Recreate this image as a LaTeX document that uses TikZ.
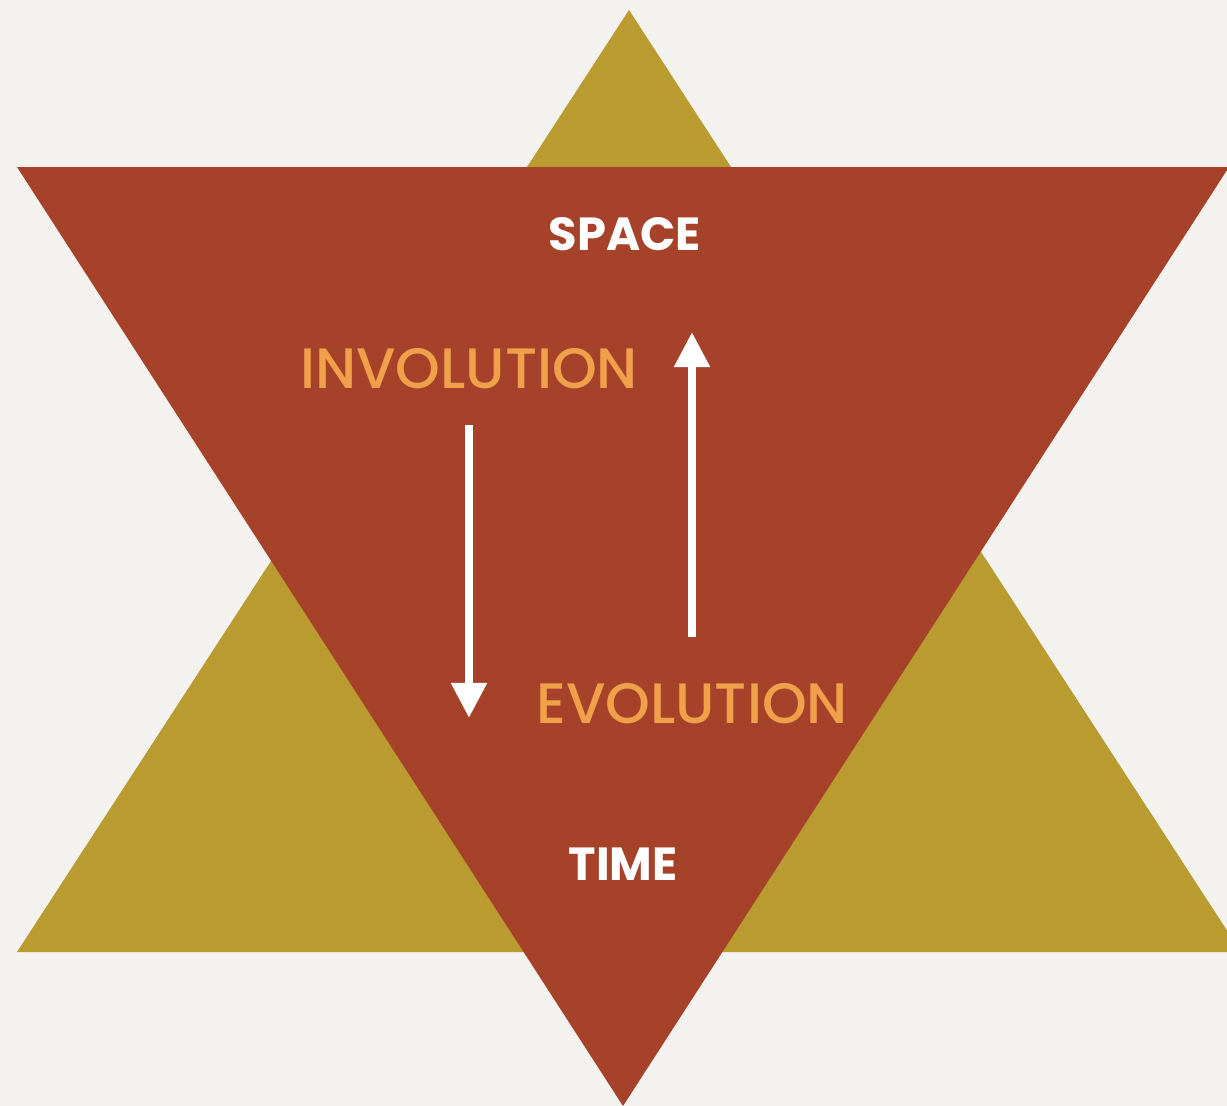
\documentclass[tikz,border=0pt]{standalone}
\usepackage{fontspec}
\setmainfont{Poppins}
\newfontfamily\mediumface{Poppins Medium}
\usepackage{xcolor}
\usetikzlibrary{arrows.meta,positioning}
\definecolor{paper}{HTML}{F3F2EE}
\definecolor{gold}{HTML}{B99B30}
\definecolor{rust}{HTML}{A6412A}
\definecolor{amber}{HTML}{F0A04A}
\tikzset{
  pole/.style={
    anchor = base,
    text = white,
    font = \fontsize{13.2}{15}\selectfont\bfseries,
    inner sep = 0pt
  },
  flow/.style={
    anchor = base,
    text = amber,
    font = \fontsize{16.2}{19}\selectfont\mediumface,
    inner sep = 0pt
  },
  turn/.style={
    draw = white,
    line width = 0.08cm,
    -{Triangle[width=0.34cm,length=0.35cm]}
  }
}

\begin{document}
\begin{tikzpicture}[x=0.01cm,y=-0.01cm]
    \def\W{1227}
    \def\H{1106}
    \useasboundingbox (0,0) rectangle (\W,\H);
    \clip (0,0) rectangle (\W,\H);
    \fill[paper] (0,0) rectangle (\W,\H);
    \fill[gold] (629,10) -- (1241,952) -- (17,952) -- cycle;
    \fill[rust] (17,167) -- (1229,167) -- (623,1106) -- cycle;
    \node[pole] (space) at (625,250) {SPACE};
    \node[pole] (time) at (623,880) {TIME};
    \node[flow] (invo) at (469,388) {INVOLUTION};
    \node[flow] (evo) at (692,723) {EVOLUTION};
    \coordinate (down top) at (469,425);
    \coordinate (down tip) at (469,718);
    \coordinate (up foot) at (692,637);
    \coordinate (up tip) at (692,332);
    \draw[turn] (down top) -- (down tip);
    \draw[turn] (up foot) -- (up tip);
%    \node at (623,600) {};
\end{tikzpicture}
\end{document}
